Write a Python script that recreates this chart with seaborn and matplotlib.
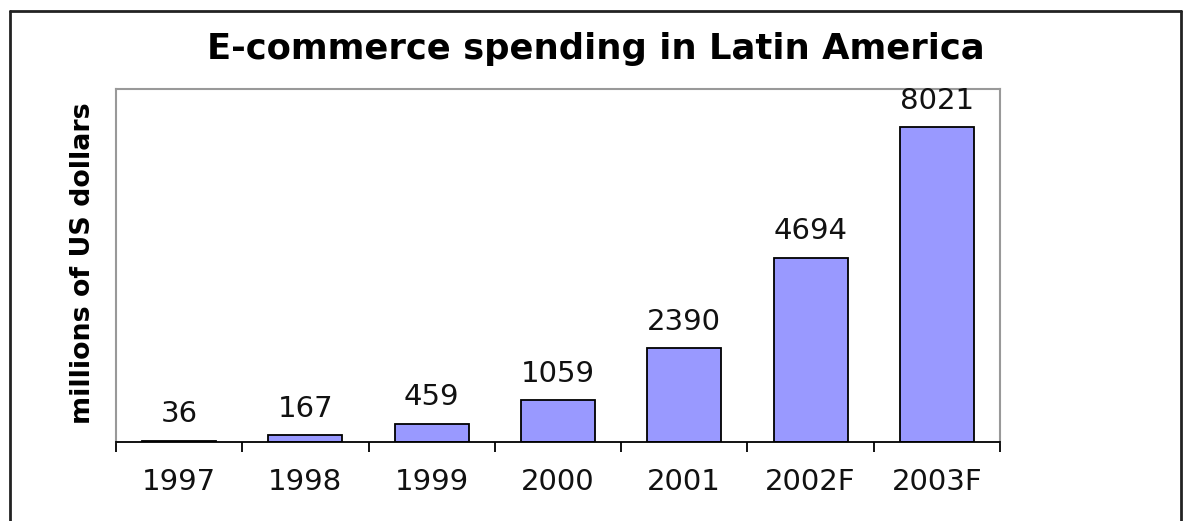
import matplotlib
matplotlib.use("Agg")
import matplotlib.pyplot as plt
import seaborn as sns
import pandas as pd
from matplotlib.lines import Line2D

years = ["1997", "1998", "1999", "2000", "2001", "2002F", "2003F"]
spending = [36, 167, 459, 1059, 2390, 4694, 8021]

title = "E-commerce spending in Latin America"
ylabel = "millions of US dollars"

sns.set_theme(style="white")
plt.rcParams["font.family"] = ["DejaVu Sans"]

W, H = 1183, 521
fig = plt.figure(figsize=(W / 100, H / 100), dpi=100)
ax = fig.add_axes([116 / W, 1 - 442 / H, (1000 - 116) / W, (442 - 89) / H])

df = pd.DataFrame({"year": years, "value": spending})
sns.barplot(data=df, x="year", y="value", color="#9999FF", saturation=1,
            edgecolor="black", linewidth=1.3, width=0.585, ax=ax)

ax.set_ylim(0, 9000)
ax.set_xlim(-0.5, len(years) - 0.5)
ax.set_yticks([])
ax.set_xlabel("")
ax.set_ylabel("")

for c in ax.containers:
    ax.bar_label(c, labels=[str(v) for v in spending], padding=9,
                 fontsize=21, color="#111111")

for side in ["top", "right", "left"]:
    ax.spines[side].set_color("#999999")
    ax.spines[side].set_linewidth(1.5)
ax.spines["bottom"].set_color("black")
ax.spines["bottom"].set_linewidth(1.3)

ax.tick_params(axis="x", which="major", length=0, pad=18.5, labelsize=21,
               labelcolor="#111111")
ax.set_xticks([i - 0.5 for i in range(len(years) + 1)], minor=True)
ax.tick_params(axis="x", which="minor", length=7.5, width=1.3, color="black",
               direction="out", bottom=True)

fig.text(595.5 / W, 1 - 59.5 / H, title, ha="center", va="baseline",
         fontsize=25.5, fontweight="bold", color="black")
fig.text(90 / W, 1 - 263 / H, ylabel, ha="center", va="baseline",
         rotation=90, rotation_mode="anchor", fontsize=19.4,
         fontweight="bold", color="black")

# outer frame (open at bottom)
lw = 2.0
x0, x1 = 9.5 / W, 1181 / W
y0 = 1 - 11 / H
fig.add_artist(Line2D([x0, x0], [0, y0], transform=fig.transFigure,
                      color="#222222", linewidth=lw))
fig.add_artist(Line2D([x0, x1], [y0, y0], transform=fig.transFigure,
                      color="#222222", linewidth=lw))
fig.add_artist(Line2D([x1, x1], [0, y0], transform=fig.transFigure,
                      color="#222222", linewidth=lw))

fig.savefig("out.png", dpi=100, facecolor="white")
